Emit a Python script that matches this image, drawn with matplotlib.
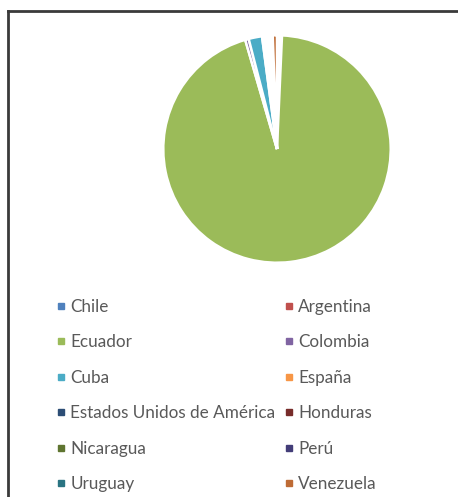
import matplotlib
matplotlib.use("Agg")
import matplotlib.pyplot as plt
from matplotlib.lines import Line2D

# Share of records by country (percent)
countries = ["Chile", "Argentina", "Ecuador", "Colombia", "Cuba", "España",
             "Estados Unidos de América", "Honduras", "Nicaragua", "Perú",
             "Uruguay", "Venezuela"]
shares = [0.35, 0.35, 94.6, 0.5, 1.9, 0.25, 0.25, 0.25, 0.25, 0.25, 0.25, 0.6]
colors = ["#4F81BD", "#C0504D", "#9BBB59", "#8064A2", "#4BACC6", "#F79646",
          "#2C4D75", "#772C2A", "#5F7530", "#433D78", "#2A7482", "#BE6B35"]

plt.rcParams["font.family"] = ["Lato", "DejaVu Sans"]

W, H = 458, 497
fig = plt.figure(figsize=(W / 100, H / 100), dpi=100)
fig.patch.set_facecolor("white")

# Pie area
cx, cy, r = 277, 149, 116
ax = fig.add_axes([(cx - r) / W, (H - cy - r) / H, 2 * r / W, 2 * r / H])
ax.pie(shares, colors=colors, startangle=90, counterclock=False,
       radius=1.0, wedgeprops=dict(edgecolor="white", linewidth=1.8))
ax.set_xlim(-1.02, 1.02)
ax.set_ylim(-1.02, 1.02)
ax.set_aspect("equal")
ax.axis("off")

# Legend laid out row by row in two columns
handles = [Line2D([], [], linestyle="none", marker="s", markersize=4.0,
                  markerfacecolor=c, markeredgecolor=c) for c in colors]
order = list(range(0, 12, 2)) + list(range(1, 12, 2))
leg = fig.legend([handles[i] for i in order], [countries[i] for i in order],
                 ncol=2, loc="upper left",
                 bbox_to_anchor=(50 / W, 1 - 292 / H),
                 frameon=False, fontsize=12.3, labelcolor="#595959",
                 handlelength=0.5, handletextpad=0.28,
                 labelspacing=1.14, columnspacing=0.55, borderaxespad=0)

# Chart frame: top and left edges
frame_color = "#3a3a3a"
fig.add_artist(Line2D([7.5 / W, 1.0], [1 - 11 / H, 1 - 11 / H],
                      transform=fig.transFigure, color=frame_color, lw=2.0))
fig.add_artist(Line2D([7.5 / W, 7.5 / W], [0.0, 1 - 11 / H],
                      transform=fig.transFigure, color=frame_color, lw=2.0))

fig.savefig("out.png", dpi=100)
